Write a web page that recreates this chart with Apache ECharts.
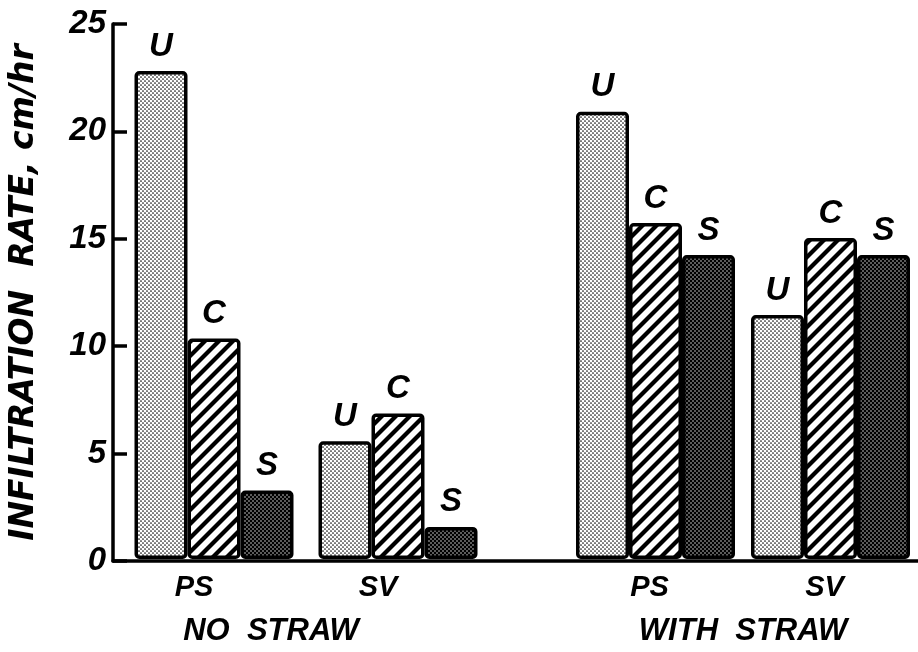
<!DOCTYPE html>
<html>
<head>
<meta charset="utf-8">
<script src="https://cdn.jsdelivr.net/npm/echarts@6/dist/echarts.min.js"></script>
<style>
html,body{margin:0;padding:0;background:#fff;}
#chart{width:918px;height:652px;}
</style>
</head>
<body>
<div id="chart"></div>
<script>
// ---- data ----
const categories = ['PS', 'SV'];
const treatments = ['U', 'C', 'S'];
const groupLabels = ['NO  STRAW', 'WITH  STRAW'];
const noStrawU = [22.8, 5.5];
const noStrawC = [10.3, 6.8];
const noStrawS = [3.2, 1.5];
const withStrawU = [20.9, 11.4];
const withStrawC = [15.7, 15.0];
const withStrawS = [14.2, 14.2];
const yTicks = [0, 5, 10, 15, 20, 25];
const yTitle = 'INFILTRATION  RATE, cm/hr';

// ---- patterns ----
function dotPattern(bg, fg, r) {
  const c = document.createElement('canvas');
  c.width = 4; c.height = 4;
  const ctx = c.getContext('2d');
  ctx.fillStyle = bg; ctx.fillRect(0, 0, 4, 4);
  ctx.fillStyle = fg;
  [[1, 1], [3, 3]].forEach(([x, y]) => {
    ctx.beginPath(); ctx.arc(x, y, r, 0, Math.PI * 2); ctx.fill();
  });
  return { image: c, repeat: 'repeat' };
}
function hatchPattern() {
  const s = 14;
  const c = document.createElement('canvas');
  c.width = s; c.height = s;
  const ctx = c.getContext('2d');
  ctx.fillStyle = '#fff'; ctx.fillRect(0, 0, s, s);
  ctx.strokeStyle = '#000'; ctx.lineWidth = 4.2;
  [[0, s, s, 0], [-s / 2, s / 2, s / 2, -s / 2], [s / 2, s * 1.5, s * 1.5, s / 2]].forEach(([a, b, cc, d]) => {
    ctx.beginPath(); ctx.moveTo(a, b); ctx.lineTo(cc, d); ctx.stroke();
  });
  return { image: c, repeat: 'repeat' };
}
const fills = {
  U: dotPattern('#ffffff', '#111111', 0.85),
  C: hatchPattern(),
  S: dotPattern('#000000', '#ffffff', 0.7)
};

const FONT = 'Liberation Sans';
const txt = (size, fam, weight) => ({ fontFamily: fam || FONT, fontStyle: 'italic', fontWeight: weight || 'bold', fontSize: size, color: '#000' });

const seriesData = [
  { U: noStrawU, C: noStrawC, S: noStrawS },
  { U: withStrawU, C: withStrawC, S: withStrawS }
];

const series = [];
seriesData.forEach((grp, gi) => {
  treatments.forEach(t => {
    series.push({
      type: 'bar',
      name: t,
      xAxisIndex: gi + 1,
      yAxisIndex: gi + 1,
      data: grp[t],
      barWidth: 53,
      barGap: '0%',
      itemStyle: { color: fills[t], borderColor: '#000', borderWidth: 3.5, borderRadius: 3 },
      label: Object.assign({ show: true, position: 'top', distance: 8, formatter: t }, txt(33)),
      emphasis: { disabled: true },
      animation: false
    });
  });
});

const chart = echarts.init(document.getElementById('chart'), null, { renderer: 'canvas' });
chart.setOption({
  animation: false,
  backgroundColor: '#fff',
  grid: [
    { left: 108, right: 0, top: 24, bottom: 91 },
    { left: 122, width: 368, top: 24, bottom: 91 },
    { left: 568, width: 363, top: 24, bottom: 91 }
  ],
  xAxis: [
    { gridIndex: 0, type: 'value', min: 0, max: 1,
      axisLine: { show: true, lineStyle: { color: '#000', width: 3.5 } },
      axisTick: { show: false }, axisLabel: { show: false }, splitLine: { show: false } },
    { gridIndex: 1, type: 'category', data: categories,
      axisLine: { show: false }, axisTick: { show: false },
      axisLabel: Object.assign({ margin: 14, padding: [0, 40, 0, 0] }, txt(29)),
      name: groupLabels[0], nameLocation: 'middle', nameGap: 57,
      nameTextStyle: Object.assign({ padding: [0, 70, 0, 0] }, txt(31)) },
    { gridIndex: 2, type: 'category', data: categories,
      axisLine: { show: false }, axisTick: { show: false },
      axisLabel: Object.assign({ margin: 14, padding: [0, 12, 0, 0] }, txt(29)),
      name: groupLabels[1], nameLocation: 'middle', nameGap: 57,
      nameTextStyle: txt(31) }
  ],
  yAxis: [
    { gridIndex: 0, type: 'value', min: yTicks[0], max: yTicks[yTicks.length - 1], interval: yTicks[1] - yTicks[0],
      axisLine: { show: true, lineStyle: { color: '#000', width: 3.5 } },
      axisTick: { show: true, inside: true, length: 14, lineStyle: { color: '#000', width: 3.5 } },
      axisLabel: Object.assign({ margin: 7 }, txt(33)),
      splitLine: { show: false },
      name: yTitle, nameLocation: 'middle', nameGap: 72,
      nameTextStyle: txt(33, 'DejaVu Sans') },
    { gridIndex: 1, type: 'value', min: yTicks[0], max: yTicks[yTicks.length - 1], show: false, splitLine: { show: false } },
    { gridIndex: 2, type: 'value', min: yTicks[0], max: yTicks[yTicks.length - 1], show: false, splitLine: { show: false } }
  ],
  series: series
});
</script>
</body>
</html>
